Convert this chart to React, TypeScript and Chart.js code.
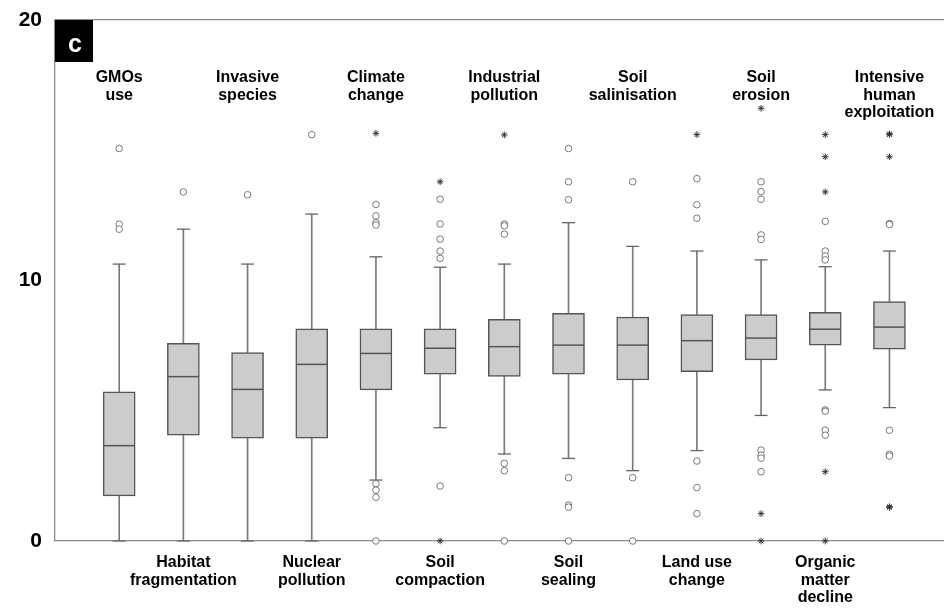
import { useEffect, useRef } from "react";
import { Chart, registerables } from "chart.js";

Chart.register(...registerables);

const categoryLines: string[][] = [
  ["GMOs", "use"],
  ["Habitat", "fragmentation"],
  ["Invasive", "species"],
  ["Nuclear", "pollution"],
  ["Climate", "change"],
  ["Soil", "compaction"],
  ["Industrial", "pollution"],
  ["Soil", "sealing"],
  ["Soil", "salinisation"],
  ["Land use", "change"],
  ["Soil", "erosion"],
  ["Organic", "matter", "decline"],
  ["Intensive", "human", "exploitation"],
];

const lowerWhisker = [0, 0, 0, 0, 2.34, 4.35, 3.34, 3.17, 2.7, 3.47, 4.82, 5.8, 5.12];
const q1 = [1.73, 4.06, 3.95, 3.95, 5.8, 6.4, 6.32, 6.4, 6.18, 6.5, 6.95, 7.52, 7.36];
const median = [3.66, 6.31, 5.82, 6.78, 7.2, 7.4, 7.46, 7.52, 7.52, 7.69, 7.79, 8.13, 8.21];
const q3 = [5.73, 7.59, 7.23, 8.14, 8.14, 8.14, 8.51, 8.74, 8.6, 8.69, 8.69, 8.78, 9.19];
const upperWhisker = [10.63, 11.97, 10.63, 12.55, 10.91, 10.51, 10.63, 12.22, 11.31, 11.13, 10.79, 10.53, 11.13];

const circleOutliers: number[][] = [
  [15.07, 12.16, 11.97],
  [13.4],
  [13.29],
  [15.6],
  [12.92, 12.48, 12.22, 12.13, 2.2, 1.95, 1.68, 0],
  [13.12, 12.17, 11.59, 11.13, 10.85, 2.11],
  [12.17, 12.1, 11.78, 2.98, 2.7, 0],
  [15.07, 13.79, 13.1, 2.43, 1.38, 1.3, 0],
  [13.79, 2.43, 0],
  [13.91, 12.91, 12.39, 3.07, 2.05, 1.05],
  [13.79, 13.41, 13.12, 11.75, 11.58, 3.49, 3.29, 3.18, 2.66],
  [12.27, 11.13, 10.94, 10.79, 5.03, 4.98, 4.26, 4.06],
  [12.19, 12.15, 4.25, 3.33, 3.26],
];

const starOutliers: number[][] = [
  [],
  [],
  [],
  [],
  [15.65],
  [13.79, 0],
  [15.59],
  [],
  [],
  [15.6],
  [16.61, 1.05, 0],
  [15.6, 14.75, 13.4, 2.66, 0],
  [15.6, 15.63, 14.75, 1.29, 1.32],
];

const yTickValues = [0, 10, 20];
const panelLetter = "c";

const FONT = '"Liberation Sans", Arial, Helvetica, sans-serif';

const decorPlugin = {
  id: "panelDecor",
  afterDraw(chart: any) {
    const { ctx, chartArea } = chart;
    const xs = chart.scales.x;
    ctx.save();
    ctx.fillStyle = "#000";
    ctx.fillRect(chartArea.left, chartArea.top, 38, 42);
    ctx.fillStyle = "#fff";
    ctx.font = `bold 25px ${FONT}`;
    ctx.textAlign = "center";
    ctx.textBaseline = "alphabetic";
    ctx.fillText(panelLetter, chartArea.left + 20, chartArea.top + 32);

    ctx.fillStyle = "#000";
    ctx.font = `bold 16px ${FONT}`;
    categoryLines.forEach((lines, i) => {
      if (i % 2 !== 0) return;
      const px = xs.getPixelForValue(i + 1);
      lines.forEach((ln, j) => {
        ctx.fillText(ln, px, chartArea.top + 62 + j * 17.7);
      });
    });
    ctx.restore();
  },
};

export default function App() {
  const ref = useRef<HTMLCanvasElement | null>(null);

  useEffect(() => {
    document.body.style.margin = "0";
    if (!ref.current) return;
    const idx = categoryLines.map((_, i) => i + 1);

    const circles: { x: number; y: number }[] = [];
    circleOutliers.forEach((arr, i) => arr.forEach((v) => circles.push({ x: i + 1, y: v })));
    const stars: { x: number; y: number }[] = [];
    starOutliers.forEach((arr, i) => arr.forEach((v) => stars.push({ x: i + 1, y: v })));
    const caps: { x: number; y: number }[] = [];
    idx.forEach((x, i) => {
      caps.push({ x, y: upperWhisker[i] });
      caps.push({ x, y: lowerWhisker[i] });
    });

    const chart = new Chart(ref.current, {
      type: "bar",
      data: {
        datasets: [
          {
            type: "bar",
            label: "whisker",
            data: idx.map((x, i) => ({ x, y: [lowerWhisker[i], upperWhisker[i]] })) as any,
            backgroundColor: "#7a7a7a",
            borderWidth: 0,
            barThickness: 1,
            grouped: false,
            order: 5,
          } as any,
          {
            type: "bar",
            label: "box",
            data: idx.map((x, i) => ({ x, y: [q1[i], q3[i]] })) as any,
            backgroundColor: "#cccccc",
            borderColor: "#555555",
            borderWidth: 1.5,
            borderSkipped: false,
            barThickness: 32,
            grouped: false,
            order: 4,
          } as any,
          {
            type: "scatter",
            label: "median",
            data: idx.map((x, i) => ({ x, y: median[i] })),
            pointStyle: "line",
            radius: 15.5,
            hoverRadius: 15.5,
            borderColor: "#555555",
            borderWidth: 1.5,
            clip: false,
            order: 3,
          } as any,
          {
            type: "scatter",
            label: "caps",
            data: caps,
            pointStyle: "line",
            radius: 6.5,
            hoverRadius: 6.5,
            borderColor: "#666666",
            borderWidth: 1.3,
            clip: false,
            order: 3,
          } as any,
          {
            type: "scatter",
            label: "outliers",
            data: circles,
            pointStyle: "circle",
            radius: 3.3,
            hoverRadius: 3.3,
            borderColor: "#777777",
            backgroundColor: "#ffffff",
            borderWidth: 1,
            clip: false,
            order: 1,
          } as any,
          {
            type: "scatter",
            label: "extremes",
            data: stars,
            pointStyle: "star",
            radius: 3.3,
            hoverRadius: 3.3,
            borderColor: "#333333",
            borderWidth: 1,
            clip: false,
            order: 1,
          } as any,
        ],
      },
      options: {
        animation: false,
        responsive: true,
        maintainAspectRatio: false,
        events: [],
        layout: { autoPadding: false, padding: { top: 20, left: 0, right: 0, bottom: 0 } },
        plugins: { legend: { display: false }, tooltip: { enabled: false } },
        scales: {
          x: {
            type: "linear",
            min: 0,
            max: 13.85,
            offset: false,
            afterFit: (s: any) => {
              s.height = 68;
              s.paddingLeft = 0;
              s.paddingRight = 0;
            },
            grid: { display: false, drawTicks: false },
            border: { display: true, color: "#8c8c8c", width: 1.3 },
            ticks: {
              stepSize: 1,
              autoSkip: false,
              maxRotation: 0,
              padding: 13,
              color: "#000",
              font: { family: FONT, size: 16, weight: "bold", lineHeight: 1.1 },
              callback: (v: any) => {
                const n = Number(v);
                if (!Number.isInteger(n) || n < 1 || n > categoryLines.length) return "";
                if ((n - 1) % 2 === 0) return "";
                return categoryLines[n - 1];
              },
            },
          },
          y: {
            type: "linear",
            min: yTickValues[0],
            max: yTickValues[yTickValues.length - 1],
            afterFit: (s: any) => {
              s.width = 55;
              s.paddingTop = 0;
              s.paddingBottom = 0;
            },
            afterBuildTicks: (s: any) => {
              s.ticks = yTickValues.map((v) => ({ value: v }));
            },
            grid: {
              drawTicks: false,
              color: (c: any) => (c.tick && c.tick.value === 20 ? "#8c8c8c" : "rgba(0,0,0,0)"),
              lineWidth: 1.3,
            },
            border: { display: true, color: "#8c8c8c", width: 1.3 },
            ticks: {
              padding: 13,
              color: "#000",
              font: { family: FONT, size: 21, weight: "bold" },
            },
          },
        },
      } as any,
      plugins: [decorPlugin],
    });
    return () => chart.destroy();
  }, []);

  return (
    <div style={{ width: 944, height: 609, position: "relative" }}>
      <canvas ref={ref} />
    </div>
  );
}
